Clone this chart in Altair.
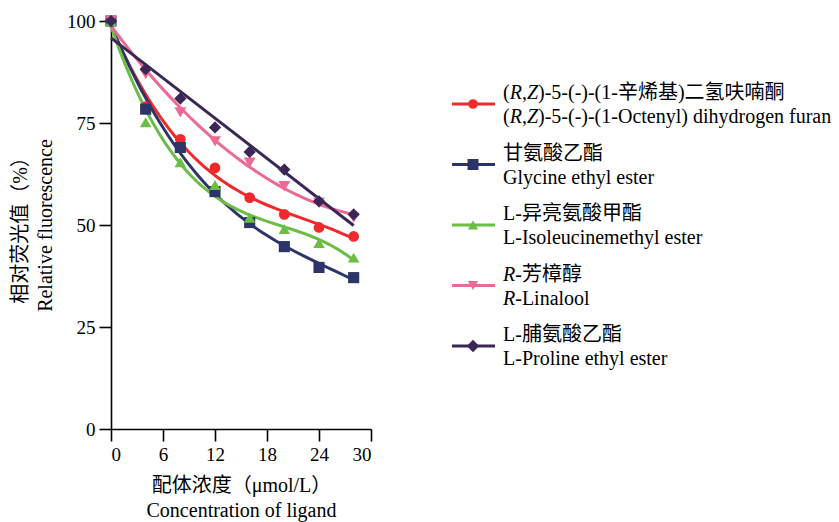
import altair as alt
import pandas as pd

# ---- data ----
conc = [0, 4, 8, 12, 16, 20, 24, 28]
y_furan = [100, 79, 71, 64, 56.7, 52.6, 49.4, 47.2]
y_glycine = [100, 78.4, 69, 58.2, 50.6, 44.7, 39.6, 37.1]
y_isoleucine = [100, 75.2, 65.4, 59.8, 51.8, 49, 45.6, 42]
y_linalool = [100, 87, 77.6, 70.5, 65.3, 59.5, 55.5, 51.8]
y_proline = [100, 88.2, 81, 73.9, 67.9, 63.6, 55.8, 52.6]

series_keys = ["furan", "glycine", "isoleucine", "linalool", "proline"]
names_cn = ["(R,Z)-5-(-)-(1-辛烯基)二氢呋喃酮", "甘氨酸乙酯", "L-异亮氨酸甲酯", "R-芳樟醇", "L-脯氨酸乙酯"]
names_en = ["(R,Z)-5-(-)-(1-Octenyl) dihydrogen furan", "Glycine ethyl ester",
            "L-Isoleucinemethyl ester", "R-Linalool", "L-Proline ethyl ester"]
x_ticks = [0, 6, 12, 18, 24, 30]
y_ticks = [0, 25, 50, 75, 100]
x_title = ["配体浓度（μmol/L）", "Concentration of ligand"]
y_title = ["相对荧光值（%）", "Relative fluorescence"]

# ---- styles ----
colors = ["#ee2a2c", "#2d3468", "#6cbd45", "#ec6a94", "#3b2756"]
shapes = ["circle", "square", "triangle-up", "triangle-down", "diamond"]
sizes = [115, 150, 130, 130, 190]
fit_order = {"furan": 3, "glycine": 3, "isoleucine": 3, "linalool": 2}
FONT = "'Liberation Serif', 'Noto Sans CJK SC', serif"
LEG_FS = 20

values = [y_furan, y_glycine, y_isoleucine, y_linalool, y_proline]
rows = []
for key, vals in zip(series_keys, values):
    for xv, yv in zip(conc, vals):
        rows.append({"series": key, "x": xv, "y": yv})
df = pd.DataFrame(rows)

color_scale = alt.Scale(domain=series_keys, range=colors)
shape_scale = alt.Scale(domain=series_keys, range=shapes)
size_scale = alt.Scale(domain=series_keys, range=sizes)

X = alt.X("x:Q", scale=alt.Scale(domain=[0, 30], nice=False),
          axis=alt.Axis(values=x_ticks, title=x_title, grid=False))
Y = alt.Y("y:Q", scale=alt.Scale(domain=[0, 100], nice=False),
          axis=alt.Axis(values=y_ticks, title=y_title, grid=False))
C = alt.Color("series:N", scale=color_scale, legend=None)

layers = []
for key, order in fit_order.items():
    layers.append(
        alt.Chart(df).transform_filter(alt.datum.series == key)
        .transform_regression("x", "y", groupby=["series"], method="poly",
                              order=order, extent=[0, 28])
        .mark_line(strokeWidth=3).encode(x=X, y=Y, color=C)
    )
layers.append(
    alt.Chart(df).transform_filter(alt.datum.series == "proline")
    .transform_regression("x", "y", groupby=["series"], method="linear", extent=[0, 28])
    .mark_line(strokeWidth=3).encode(x=X, y=Y, color=C)
)
layers.append(
    alt.Chart(df).mark_point(filled=True, opacity=1).encode(
        x=X, y=Y, color=C,
        shape=alt.Shape("series:N", scale=shape_scale, legend=None),
        size=alt.Size("series:N", scale=size_scale, legend=None),
    )
)

# ---- custom legend (two-line labels, line+marker symbol, italic R/Z) ----
# Times/Liberation Serif advance widths (per 1000 em) for the prefix glyphs
ADV = {"(": 333, ",": 250, "R_i": 611, "Z_i": 556}


def segments(label):
    if label.startswith("(R,Z)"):
        return [("(", False), ("R", True), (",", False), ("Z", True), (label[4:], False)]
    if label.startswith("R-"):
        return [("R", True), (label[1:], False)]
    return [(label, False)]


def text_layers(label, x0, y):
    out = []
    x = x0
    for seg, ital in segments(label):
        d = pd.DataFrame({"t": [seg]})
        out.append(alt.Chart(d).mark_text(
            align="left", baseline="middle", font=FONT, fontSize=LEG_FS, color="black",
            fontStyle="italic" if ital else "normal",
        ).encode(x=alt.value(x), y=alt.value(y), text="t:N"))
        key = seg + ("_i" if ital else "")
        x += ADV.get(key, 0) * LEG_FS / 1000.0
    return out


leg_sym_x1, leg_sym_x2, leg_mark_x, leg_text_x = 341, 384, 362, 392
for i, key in enumerate(series_keys):
    y1 = 72 + 60.5 * i
    y2 = y1 + 24
    ys = y1 + 11
    base = alt.Chart(pd.DataFrame({"series": [key]}))
    layers.append(base.mark_rule(color=colors[i], strokeWidth=3).encode(
        x=alt.value(leg_sym_x1), x2=alt.value(leg_sym_x2), y=alt.value(ys)))
    layers.append(base.mark_point(filled=True, opacity=1, color=colors[i], shape=shapes[i],
                                  size=sizes[i] * 0.8).encode(
        x=alt.value(leg_mark_x), y=alt.value(ys)))
    layers += text_layers(names_cn[i], leg_text_x, y1)
    layers += text_layers(names_en[i], leg_text_x, y2)

chart = alt.layer(*layers).properties(
    width=260, height=408,
    autosize=alt.AutoSizeParams(type="none"),
    padding={"left": 111, "top": 21, "right": 468, "bottom": 93},
    background="white",
).configure_view(stroke=None).configure_axis(
    domainColor="black", domainWidth=1.6, tickColor="black", tickWidth=1.6, tickSize=12,
    labelFont=FONT, labelFontSize=19, labelColor="black", labelPadding=4,
    titleFont=FONT, titleFontSize=20, titleColor="black", titleFontWeight="normal",
    titleLineHeight=25,
).configure_axisY(titlePadding=11).configure_axisX(titlePadding=11)

chart.save("out.html", embed_options={"renderer": "svg", "actions": False})
